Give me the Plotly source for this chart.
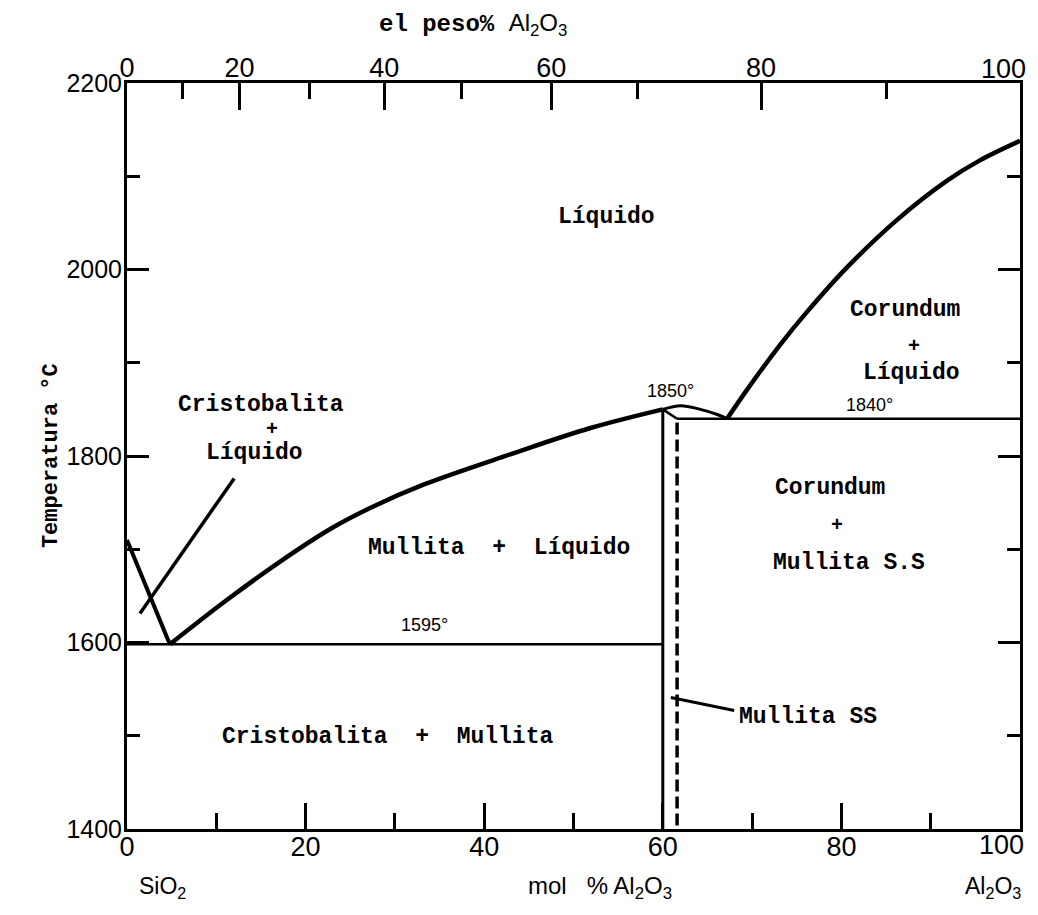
import plotly.graph_objects as go

# ---------------- data (mol % Al2O3, temperature °C) ----------------
left_liq_x = [0, 4.8]
left_liq_t = [1710, 1598]

mullite_liq_x = [4.8, 11.1, 17.8, 23.0, 27.4, 33.4, 43.0, 51.9, 60.0]
mullite_liq_t = [1598, 1645, 1691, 1723, 1745, 1770, 1802, 1830, 1850]

dome_x = [60.0, 62.0, 64.2, 66.1, 67.2]
dome_t = [1850, 1854, 1850, 1844.5, 1840]

corundum_liq_x = [67.2, 69.5, 73.2, 76.1, 80.6, 86.2, 91.8, 95.5, 100]
corundum_liq_t = [1840, 1872, 1920, 1954, 2002, 2053, 2095, 2117, 2138]

eutectic_x = [0, 60]
eutectic_t = [1598, 1598]

peritectic_x = [61.6, 100]
peritectic_t = [1840, 1840]

mullite_solid_x = [60, 60]
mullite_solid_t = [1850, 1400]

diag_x = [60, 61.6]
diag_t = [1850, 1840]

mullite_ss_x = [61.6, 61.6]
mullite_ss_t = [1836, 1400]

leader_crist_x = [1.45, 12.0]
leader_crist_t = [1631, 1776]

leader_mss_x = [60.9, 68.0]
leader_mss_t = [1541, 1527]

# axis ticks
mol_major = [0, 20, 40, 60, 80]
mol_major_text = ["0", "20", "40", "60", "80"]
mol_minor = [10, 30, 50, 70, 90]
wt_major_pos = [0, 12.6, 28.8, 47.5, 71.0]   # wt% 0..80 positions on mol scale
wt_major_text = ["0", "20", "40", "60", "80"]
wt_minor_pos = [6.2, 20.4, 37.5, 57.2, 85.0]
t_major = [1400, 1600, 1800, 2000, 2200]
t_major_text = ["1400", "1600", "1800", "2000", "2200"]
t_minor = [1500, 1700, 1900, 2100]

# region labels: (text, x, T, size)
labels = [
    ("Líquido", 53.7, 2056, 23),
    ("Cristobalita", 15.05, 1855, 23),
    ("+", 16.2, 1828, 20),
    ("Líquido", 14.3, 1803, 23),
    ("Mullita  +  Líquido", 41.7, 1701, 23),
    ("Cristobalita  +  Mullita", 29.2, 1499, 23),
    ("Corundum", 87.1, 1957, 23),
    ("+", 88.1, 1917, 20),
    ("Líquido", 87.8, 1889, 23),
    ("Corundum", 78.7, 1766, 23),
    ("+", 79.5, 1726, 20),
    ("Mullita S.S", 80.8, 1685, 23),
]
temp_labels = [
    ("1595°", 33.3, 1619),
    ("1850°", 60.9, 1870),
    ("1840°", 83.1, 1855),
]

MONO = "Liberation Mono, Courier New, monospace"
SANS = "Liberation Sans, Arial, sans-serif"

fig = go.Figure()

def line(x, y, w=4, dash=None, shape="linear"):
    fig.add_trace(go.Scatter(x=x, y=y, mode="lines",
                             line=dict(color="black", width=w, dash=dash, shape=shape),
                             hoverinfo="skip", showlegend=False, cliponaxis=False))

line(left_liq_x, left_liq_t, 4)
line(mullite_liq_x, mullite_liq_t, 4.5, shape="spline")
line(dome_x, dome_t, 3, shape="spline")
line(corundum_liq_x, corundum_liq_t, 4.5, shape="spline")
line(eutectic_x, eutectic_t, 2.5)
line(peritectic_x, peritectic_t, 2.5)
line(mullite_solid_x, mullite_solid_t, 3)
line(diag_x, diag_t, 2.5)
line(mullite_ss_x, mullite_ss_t, 3.5, dash="12px,5px")
line(leader_crist_x, leader_crist_t, 3.5)
line(leader_mss_x, leader_mss_t, 3)

# dummy trace to activate top axis
fig.add_trace(go.Scatter(x=[0, 100], y=[None, None], xaxis="x2", mode="lines",
                         showlegend=False, hoverinfo="skip"))

for txt, x, t, s in labels:
    fig.add_annotation(x=x, y=t, text="<b>" + txt + "</b>", showarrow=False,
                       xanchor="center", yanchor="middle",
                       font=dict(family=MONO, size=s, color="black"))
for txt, x, t in temp_labels:
    fig.add_annotation(x=x, y=t, text=txt, showarrow=False,
                       xanchor="center", yanchor="middle",
                       font=dict(family=SANS, size=18, color="black"))

fig.add_annotation(x=68.3, y=1520, text="<b>Mullita SS</b>", showarrow=False,
                   xanchor="left", yanchor="middle",
                   font=dict(family=MONO, size=23, color="black"))

# tick label "100" (placed inside the right edge as in original)
fig.add_annotation(x=97.9, y=-0.021, xref="x", yref="paper", text="100", showarrow=False,
                   xanchor="center", yanchor="middle",
                   font=dict(family=SANS, size=27, color="black"))
fig.add_annotation(x=98.2, y=1.019, xref="x", yref="paper", text="100", showarrow=False,
                   xanchor="center", yanchor="middle",
                   font=dict(family=SANS, size=27, color="black"))

# outer titles
fig.add_annotation(x=38.8, y=1.078, xref="x", yref="paper", showarrow=False,
                   xanchor="center", yanchor="middle",
                   text="<b>el peso%</b> <span style='font-family:Liberation Sans'>Al<sub>2</sub>O<sub>3</sub></span>",
                   font=dict(family=MONO, size=24, color="black"))
fig.add_annotation(x=4.0, y=-0.079, xref="x", yref="paper", showarrow=False,
                   xanchor="center", yanchor="middle",
                   text="SiO<sub>2</sub>", font=dict(family=SANS, size=23, color="black"))
fig.add_annotation(x=53.0, y=-0.079, xref="x", yref="paper", showarrow=False,
                   xanchor="center", yanchor="middle",
                   text="mol\u00a0\u00a0\u00a0% Al<sub>2</sub>O<sub>3</sub>",
                   font=dict(family=SANS, size=24, color="black"))
fig.add_annotation(x=97.0, y=-0.079, xref="x", yref="paper", showarrow=False,
                   xanchor="center", yanchor="middle",
                   text="Al<sub>2</sub>O<sub>3</sub>", font=dict(family=SANS, size=23, color="black"))

# y-axis title
fig.add_annotation(x=-0.085, y=0.5, xref="paper", yref="paper", showarrow=False,
                   xanchor="center", yanchor="middle", textangle=-90,
                   text="<b>Temperatura °C</b>",
                   font=dict(family=MONO, size=22, color="black"))

axis_common = dict(showgrid=False, zeroline=False, showline=True, linecolor="black",
                   linewidth=3, ticks="inside", tickcolor="black", tickwidth=3)

fig.update_layout(
    width=1022, height=899,
    margin=dict(l=119, r=7, t=75, b=78),
    paper_bgcolor="white", plot_bgcolor="white",
    showlegend=False,
    xaxis=dict(range=[0, 100], tickmode="array", tickvals=mol_major, ticktext=mol_major_text,
               ticklen=26, ticklabelstandoff=-8,
               tickfont=dict(family=SANS, size=27, color="black"),
               minor=dict(tickmode="array", tickvals=mol_minor, ticklen=16, ticks="inside",
                          tickcolor="black", tickwidth=3),
               mirror=False, **axis_common),
    xaxis2=dict(range=[0, 100], overlaying="x", side="top", anchor="y",
                tickmode="array", tickvals=wt_major_pos, ticktext=wt_major_text,
                ticklen=27, ticklabelstandoff=-8,
                tickfont=dict(family=SANS, size=27, color="black"),
                minor=dict(tickmode="array", tickvals=wt_minor_pos, ticklen=16, ticks="inside",
                           tickcolor="black", tickwidth=3),
                **axis_common),
    yaxis=dict(range=[1400, 2200], tickmode="array", tickvals=t_major, ticktext=t_major_text,
               ticklen=22, ticklabelstandoff=-3,
               tickfont=dict(family=SANS, size=25, color="black"),
               minor=dict(tickmode="array", tickvals=t_minor, ticklen=13, ticks="inside",
                          tickcolor="black", tickwidth=3),
               mirror="ticks",
               **axis_common),
)

fig.write_html("out.html")
